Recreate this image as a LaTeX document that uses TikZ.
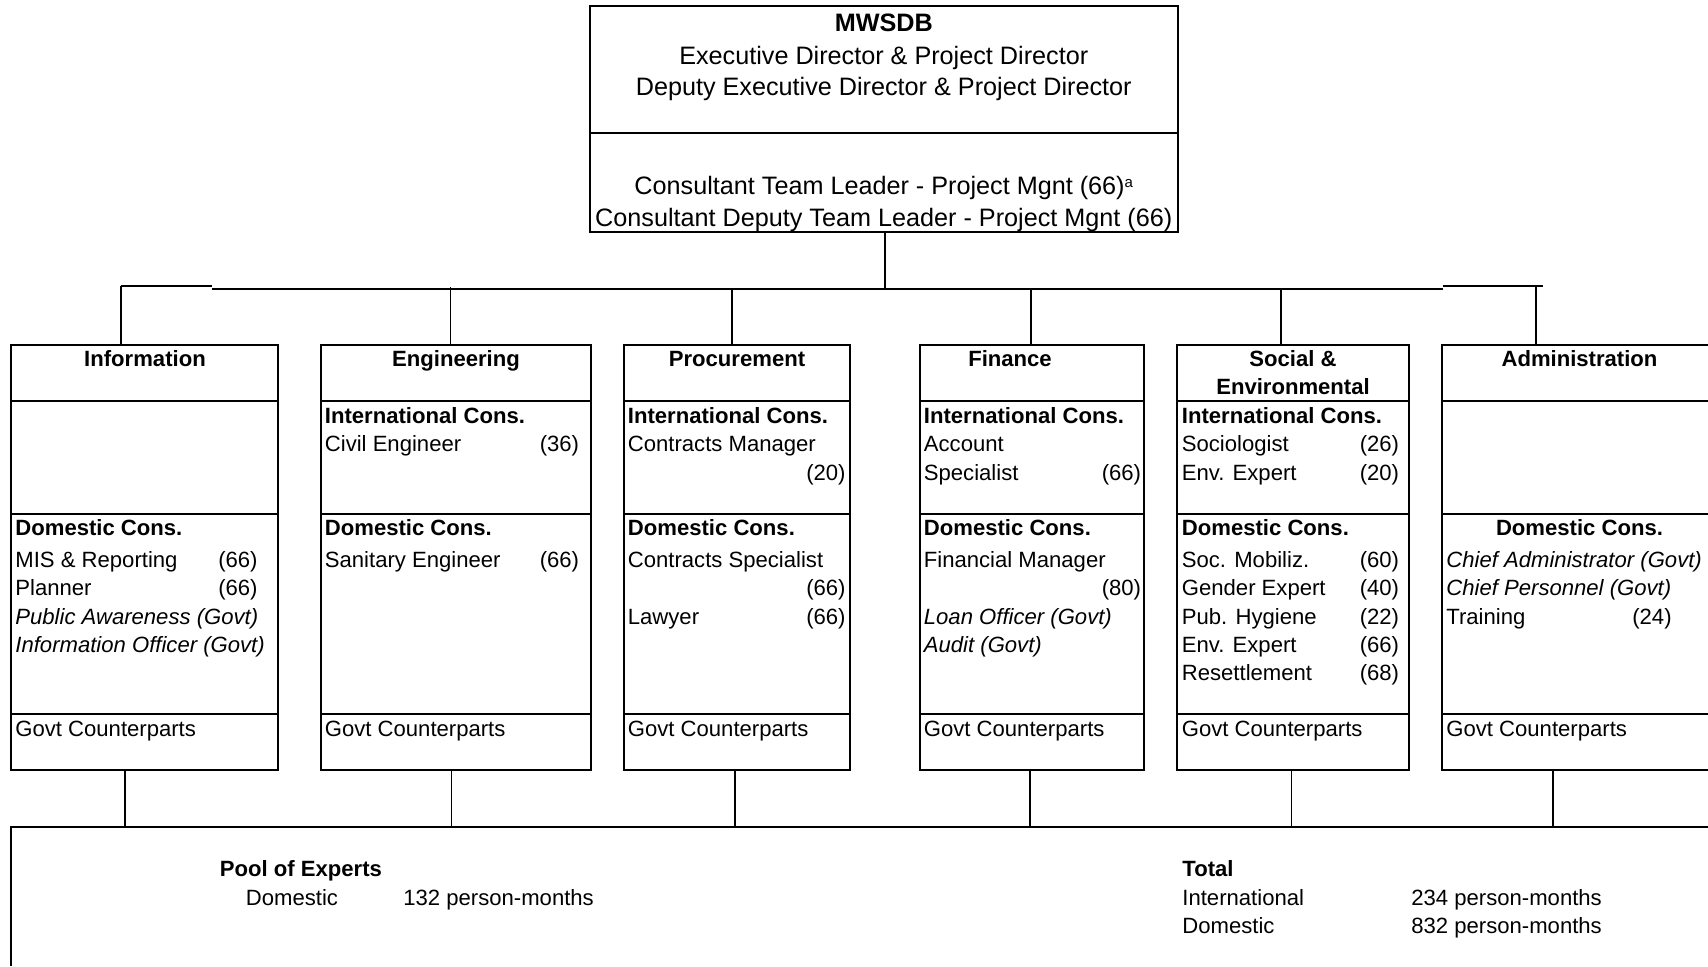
\documentclass[tikz,border=0pt]{standalone}
\usepackage{fontspec}
\setmainfont{Liberation Sans}
\newcommand\mycolbox[3]{%
  \node[draw, line width=1pt, inner sep=0pt, minimum width={(#3-#2)*0.5pt}, minimum height=212.5pt] (#1) at ({(#2+#3)/2},557.5) {};
  \draw[boxln] (#2,401) -- (#3,401) (#2,513.5) -- (#3,513.5) (#2,714) -- (#3,714);}
\begin{document}
\begin{tikzpicture}[x=0.5pt,y=-0.5pt,
  boxln/.style={line width=1pt},
  conn/.style={line width=0.75pt},
  stub/.style={line width=0.6pt},
  tx/.style={inner sep=0pt, font=\fontsize{11.05}{13}\selectfont, anchor=base west},
  txr/.style={tx, anchor=base east},
  txi/.style={tx, font=\fontsize{11.05}{13}\selectfont\itshape},
  hd/.style={tx, font=\fontsize{11.05}{13}\selectfont\bfseries},
  hdc/.style={hd, anchor=base},
  toptx/.style={inner sep=0pt, font=\fontsize{12.6}{15}\selectfont, anchor=base}]
\useasboundingbox (0,0) rectangle (1708,966);

% top box
\node[draw, line width=1pt, inner sep=0pt, minimum width=293.75pt, minimum height=113.25pt] (mw) at (883.75,118.75) {};
\draw[boxln] (590,133) -- (1177.5,133);
\node[toptx, font=\fontsize{12.6}{15}\selectfont\bfseries] (m1) at (883.75,31.5) {MWSDB};
\node[toptx] (m2) at (883.75,64) {Executive Director \& Project Director};
\node[toptx] (m3) at (883.75,95) {Deputy Executive Director \& Project Director};
\node[toptx] (m4) at (883.75,194.5) {Consultant Team Leader - Project Mgnt (66)\raisebox{3.5pt}{\fontsize{7.5}{9}\selectfont a}};
\node[toptx] (m5) at (883.75,226) {Consultant Deputy Team Leader - Project Mgnt (66)};

% bus
\coordinate (busC) at (884.5,289);
\coordinate (bus0) at (120.5,286);
\coordinate (bus1) at (212,286);
\coordinate (bus2) at (212,289);
\coordinate (bus3) at (1442.5,289);
\coordinate (bus4) at (1442.5,286);
\coordinate (bus5) at (1543,286);
\draw[boxln] (mw.south -| busC) -- (busC);
\draw[stub] (bus0) -- (bus1);
\draw[boxln] (bus2) -- (bus3);
\draw[stub] (bus4) -- (bus5);

% column boxes
\mycolbox{info}{10.5}{278}
\mycolbox{eng}{320.5}{591}
\mycolbox{proc}{623.7}{850}
\mycolbox{fin}{920}{1144}
\mycolbox{soc}{1177}{1408.7}
% administration (open on the right)
\coordinate (admTL) at (1442,345);
\coordinate (admTR) at (1708,345);
\coordinate (admBL) at (1442,770);
\coordinate (admBR) at (1708,770);
\draw[boxln] (admTR) -- (admTL) -- (admBL) -- (admBR);
\draw[boxln] (1442,401) -- (1708,401) (1442,513.5) -- (1708,513.5) (1442,714) -- (1708,714);

% connectors from bus
\coordinate (cInfo) at (121,286);
\coordinate (cEng) at (450.4,287);
\coordinate (cProc) at (732,289);
\coordinate (cFin) at (1031,289);
\coordinate (cSoc) at (1281,289);
\coordinate (cAdm) at (1536,286);
\draw[conn] (cInfo) -- (cInfo |- info.north);
\draw[conn] (cEng) -- (cEng |- eng.north);
\draw[conn] (cProc) -- (cProc |- proc.north);
\draw[conn] (cFin) -- (cFin |- fin.north);
\draw[conn] (cSoc) -- (cSoc |- soc.north);
\draw[conn] (cAdm) -- (cAdm |- admTL);

% pool box (open right and bottom)
\coordinate (pTL) at (11,827);
\coordinate (pTR) at (1708,827);
\coordinate (pBL) at (11,966);
\draw[boxln] (pTR) -- (pTL) -- (pBL);

% connectors to pool
\coordinate (dInfo) at (125,827);
\coordinate (dEng) at (451.7,827);
\coordinate (dProc) at (735.2,827);
\coordinate (dFin) at (1030,827);
\coordinate (dSoc) at (1291.5,827);
\coordinate (dAdm) at (1553,827);
\draw[conn] (dInfo |- info.south) -- (dInfo);
\draw[conn] (dEng |- eng.south) -- (dEng);
\draw[conn] (dProc |- proc.south) -- (dProc);
\draw[conn] (dFin |- fin.south) -- (dFin);
\draw[conn] (dSoc |- soc.south) -- (dSoc);
\draw[conn] (dAdm |- admBL) -- (dAdm);

% Information
\node[hdc] (ia) at (145,366.5) {Information};
\node[hd] (ib) at (15,535.7) {Domestic Cons.};
\node[tx] (ic) at (15,567.5) {MIS \& Reporting};
\node[txr] (icn) at (258,567.5) {(66)};
\node[tx] (id) at (15,595.7) {Planner};
\node[txr] (idn) at (258,595.7) {(66)};
\node[txi] (ie) at (15,624) {Public Awareness (Govt)};
\node[txi] (if) at (15,652) {Information Officer (Govt)};
\node[tx] (ig) at (15,736) {Govt Counterparts};

% Engineering
\node[hdc] (ea) at (456,366.5) {Engineering};
\node[hd] (eb) at (324.5,423.3) {International Cons.};
\node[tx] (ec) at (324.5,451.7) {Civil Engineer};
\node[txr] (ecn) at (579.5,451.7) {(36)};
\node[hd] (ed) at (324.5,535.7) {Domestic Cons.};
\node[tx] (ee) at (324.5,567.5) {Sanitary Engineer};
\node[txr] (een) at (579.5,567.5) {(66)};
\node[tx] (eg) at (324.5,736) {Govt Counterparts};

% Procurement
\node[hdc] (pa) at (737,366.5) {Procurement};
\node[hd] (pb) at (627.5,423.3) {International Cons.};
\node[tx] (pc) at (627.5,451.7) {Contracts Manager};
\node[txr] (pcn) at (846,480) {(20)};
\node[hd] (pd) at (627.5,535.7) {Domestic Cons.};
\node[tx] (pe) at (627.5,567.5) {Contracts Specialist};
\node[txr] (pen) at (846,595.7) {(66)};
\node[tx] (pf) at (627.5,624) {Lawyer};
\node[txr] (pfn) at (846,624) {(66)};
\node[tx] (pg) at (627.5,736) {Govt Counterparts};

% Finance
\node[hdc] (fa) at (1010,366.5) {Finance};
\node[hd] (fb) at (923.5,423.3) {International Cons.};
\node[tx] (fc) at (923.5,451.7) {Account};
\node[tx] (fc2) at (923.5,480) {Specialist};
\node[txr] (fcn) at (1141.5,480) {(66)};
\node[hd] (fd) at (923.5,535.7) {Domestic Cons.};
\node[tx] (fe) at (923.5,567.5) {Financial Manager};
\node[txr] (fen) at (1141.5,595.7) {(80)};
\node[txi] (ff) at (923.5,624) {Loan Officer (Govt)};
\node[txi] (fh) at (923.5,652) {Audit (Govt)};
\node[tx] (fg) at (923.5,736) {Govt Counterparts};

% Social & Environmental
\node[hdc] (sa) at (1293,366.5) {Social \&};
\node[hdc] (sa2) at (1293,394) {Environmental};
\node[hd] (sb) at (1181.5,423.3) {International Cons.};
\node[tx] (sc) at (1181.5,451.7) {Sociologist};
\node[txr] (scn) at (1399.5,451.7) {(26)};
\node[tx] (sc2) at (1181.5,480) {Env. Expert};
\node[txr] (sc2n) at (1399.5,480) {(20)};
\node[hd] (sd) at (1181.5,535.7) {Domestic Cons.};
\node[tx] (s1) at (1181.5,567.5) {Soc. Mobiliz.};
\node[txr] (s1n) at (1399.5,567.5) {(60)};
\node[tx] (s2) at (1181.5,595.7) {Gender Expert};
\node[txr] (s2n) at (1399.5,595.7) {(40)};
\node[tx] (s3) at (1181.5,624) {Pub. Hygiene};
\node[txr] (s3n) at (1399.5,624) {(22)};
\node[tx] (s4) at (1181.5,652) {Env. Expert};
\node[txr] (s4n) at (1399.5,652) {(66)};
\node[tx] (s5) at (1181.5,680.3) {Resettlement};
\node[txr] (s5n) at (1399.5,680.3) {(68)};
\node[tx] (sg) at (1181.5,736) {Govt Counterparts};

% Administration
\node[hdc] (aa) at (1579.5,366.5) {Administration};
\node[hdc] (ad) at (1579.5,535.7) {Domestic Cons.};
\node[txi] (a1) at (1446,567.5) {Chief Administrator (Govt)};
\node[txi] (a2) at (1446,595.7) {Chief Personnel (Govt)};
\node[tx] (a3) at (1446,624) {Training};
\node[txr] (a3n) at (1672,624) {(24)};
\node[tx] (ag) at (1446,736) {Govt Counterparts};

% Pool of experts and totals
\node[hd] (po) at (219.5,876.7) {Pool of Experts};
\node[tx] (pd1) at (245.5,905) {Domestic};
\node[tx] (pd2) at (403,905) {132 person-months};
\node[hd] (to) at (1182,876.7) {Total};
\node[tx] (ti) at (1182,905) {International};
\node[tx] (ti2) at (1411,905) {234 person-months};
\node[tx] (td) at (1182,933.3) {Domestic};
\node[tx] (td2) at (1411,933.3) {832 person-months};
\end{tikzpicture}
\end{document}
